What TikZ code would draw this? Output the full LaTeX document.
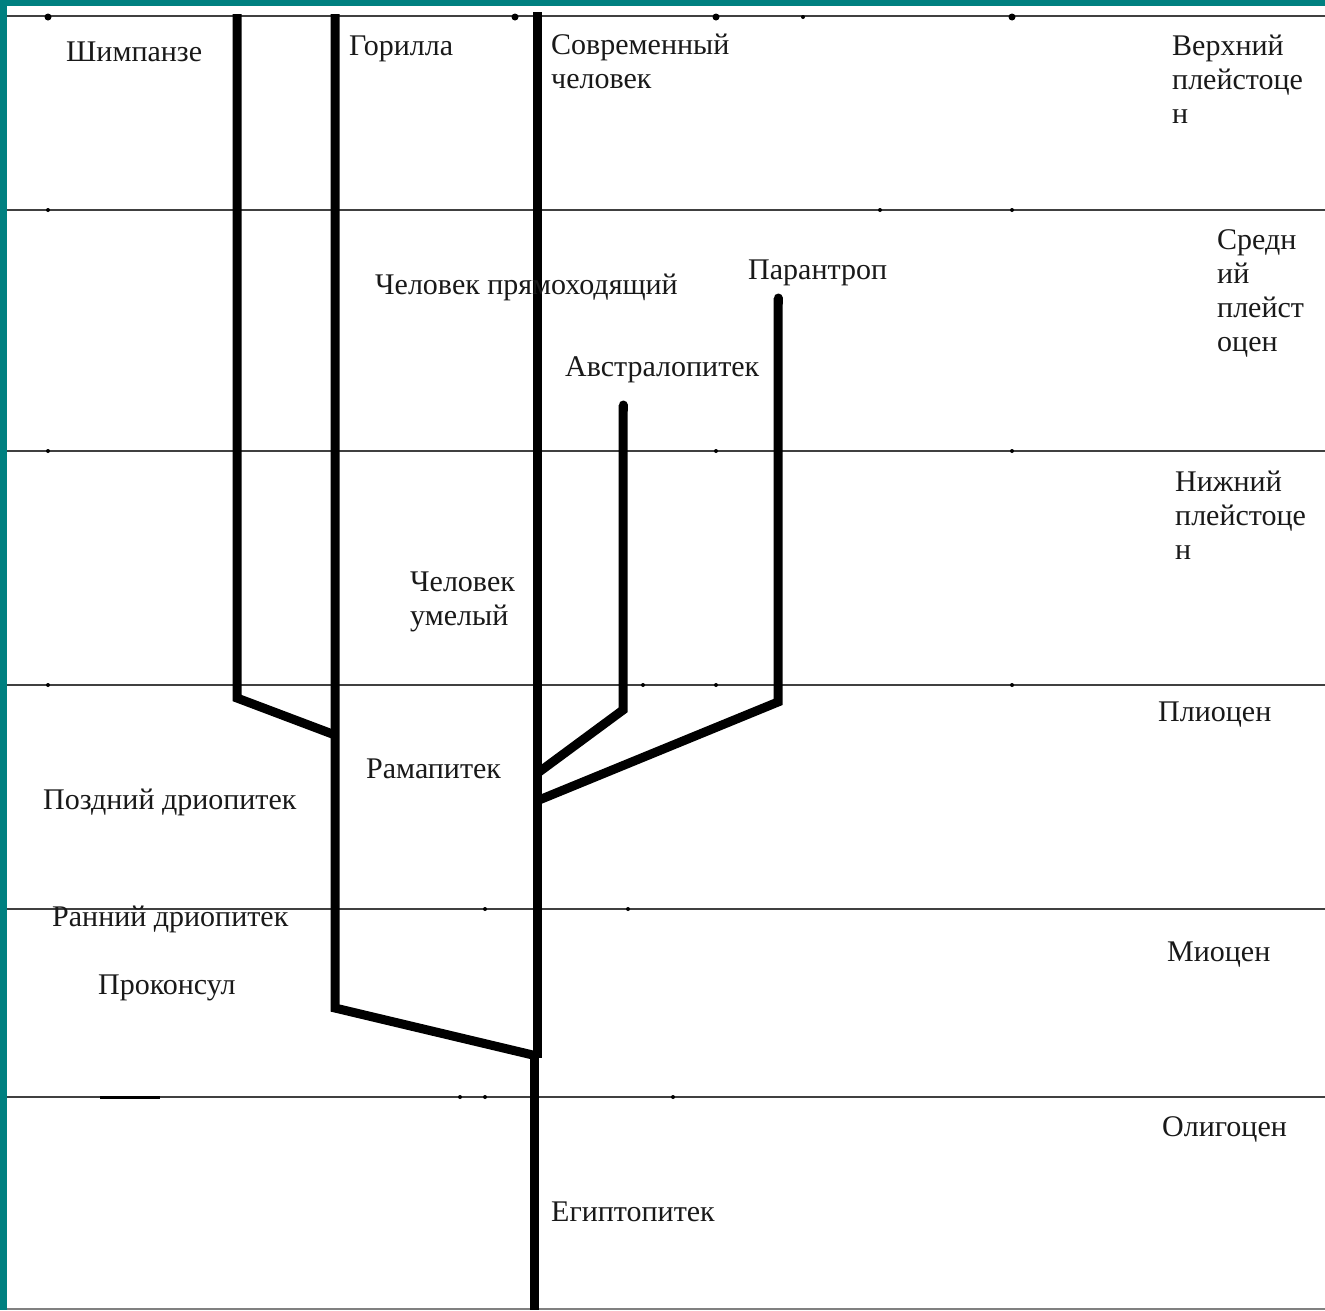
\documentclass[tikz,border=0pt]{standalone}
\usepackage{fontspec}
\setmainfont{Liberation Serif}
\begin{document}
\begin{tikzpicture}[x=1pt,y=-1pt,
  branch/.style={line width=9pt,line join=miter,line cap=butt},
  era/.style={draw=black!75,line width=1.8pt},
  lbl/.style={anchor=base west,inner sep=0pt,font=\fontsize{30}{34}\selectfont,align=left,text=black!90},
  speck/.style={fill=black,circle,inner sep=0pt,minimum size=5pt}]
\useasboundingbox (0,0) rectangle (1325,1310);
\fill[white] (0,0) rectangle (1325,1310);
% teal frame
\fill[teal] (0,0) rectangle (1325,6);
\fill[teal] (0,0) rectangle (7,1310);
% era lines
\foreach \yy/\nm in {16/l0,210/l1,451/l2,685/l3,909/l4,1097/l5}{
  \coordinate (\nm a) at (7,\yy); \coordinate (\nm b) at (1325,\yy);
  \draw[era] (\nm a) -- (\nm b);}
\coordinate (l6a) at (7,1309); \coordinate (l6b) at (1325,1309);
\draw[draw=black!50,line width=2pt] (l6a) -- (l6b);
% specks
\foreach \xx/\yy in {48/17,515/17,716/17,1012/17}{
  \node[speck,minimum size=7pt] at (\xx,\yy) {};}
\foreach \xx/\yy in {803/17,48/210,880/210,1012/210,48/451,716/451,1012/451,48/685,643/685,716/685,1012/685,485/909,628/909,460/1097,485/1097,673/1097}{
  \node[speck,minimum size=4pt] at (\xx,\yy) {};}
\fill (100,1095.5) rectangle (160,1099);
% branches
\coordinate (chT) at (237,14); \coordinate (chB) at (237,698); \coordinate (chJ) at (335,735);
\coordinate (goT) at (335,14); \coordinate (goB) at (335,1008); \coordinate (goJ) at (537,1056);
\coordinate (mT) at (537,12); \coordinate (mJ) at (537,1058);
\coordinate (m2) at (534,1058); \coordinate (mB) at (534,1310);
\coordinate (auT) at (623,405); \coordinate (auB) at (623,710); \coordinate (auJ) at (539,772);
\coordinate (paT) at (778,298); \coordinate (paB) at (778,702); \coordinate (paJ) at (539,800);
\draw[branch] (chT) -- (chB) -- (chJ);
\draw[branch] (goT) -- (goB) -- (goJ);
\draw[branch] (mT) -- (mJ);
\draw[branch] (m2) -- (mB);
\draw[branch,line cap=round] (auT) -- ++(0,5);
\draw[branch] (auT) -- (auB) -- (auJ);
\draw[branch,line cap=round] (paT) -- ++(0,5);
\draw[branch] (paT) -- (paB) -- (paJ);
% labels (base = baseline of last line)
\node[lbl] (t1) at (66,61) {Шимпанзе};
\node[lbl] (t2) at (349,55) {Горилла};
\node[lbl] (t3) at (551,88) {Современный\\человек};
\node[lbl] (t4) at (1172,123) {Верхний\\плейстоце\\н};
\node[lbl] (t5) at (1217,351) {Средн\\ий\\плейст\\оцен};
\node[lbl] (t6) at (375,294) {Человек прямоходящий};
\node[lbl] (t7) at (748,279) {Парантроп};
\node[lbl] (t8) at (565,376) {Австралопитек};
\node[lbl] (t9) at (1175,559) {Нижний\\плейстоце\\н};
\node[lbl] (t10) at (410,625) {Человек\\умелый};
\node[lbl] (t11) at (1158,721) {Плиоцен};
\node[lbl] (t12) at (366,778) {Рамапитек};
\node[lbl] (t13) at (43,809) {Поздний дриопитек};
\node[lbl] (t14) at (52,926) {Ранний дриопитек};
\node[lbl] (t15) at (98,994) {Проконсул};
\node[lbl] (t16) at (1167,961) {Миоцен};
\node[lbl] (t17) at (1162,1136) {Олигоцен};
\node[lbl] (t18) at (551,1221) {Египтопитек};
\end{tikzpicture}
\end{document}
